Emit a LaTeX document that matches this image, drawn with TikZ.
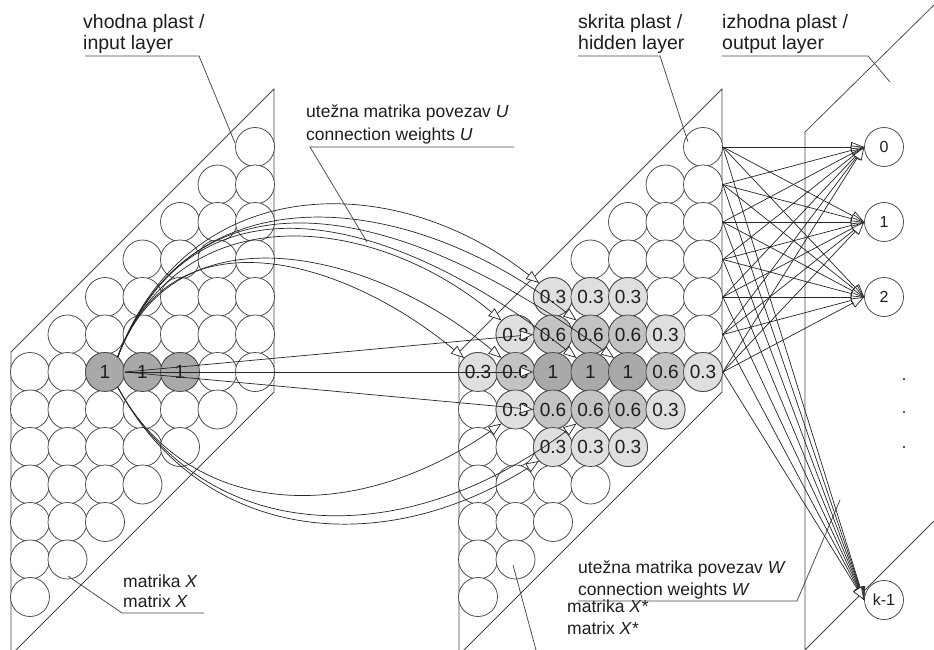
\documentclass[tikz,border=0pt]{standalone}
\usepackage{fontspec}
\setmainfont{Liberation Sans}
\usetikzlibrary{arrows.meta}
\definecolor{cone}{HTML}{A9A9A9}
\definecolor{csix}{HTML}{C3C3C3}
\definecolor{cthree}{HTML}{DFDFDF}
\definecolor{edgegray}{HTML}{474747}
\definecolor{txt}{HTML}{1E1E1E}
\tikzset{
  cell/.style={circle, draw=edgegray, line width=0.75pt, fill=white, minimum size=39pt, inner sep=0pt, text=txt, font=\fontsize{19}{19}\selectfont},
  outcell/.style={cell, font=\fontsize{16}{16}\selectfont},
  paraline/.style={draw=edgegray, line width=0.75pt},
  whtip/.style={-{Triangle[fill=white, length=13pt, width=10pt]}},
  conn/.style={draw=black!85, line width=0.7pt, whtip},
  lbl/.style={anchor=base west, inner sep=0pt, text=txt, font=\fontsize{17.5}{21}\selectfont},
  biglbl/.style={lbl, font=\fontsize{19.5}{22}\selectfont},
  leader/.style={draw=edgegray, line width=0.75pt},
}
\begin{document}
\begin{tikzpicture}[x=1pt,y=-1pt]
\path[use as bounding box, fill=white] (0,0) rectangle (934,650);
% layer frames
\draw[paraline] (11,650) -- (11,352) -- (274,89) -- (274,392) -- (16,650);
\draw[paraline] (459,650) -- (459,352) -- (722,89) -- (722,392) -- (464,650);
\draw[paraline] (934,5) -- (805,132) -- (805,650) -- (934,521);
% input grid
\foreach \i in {0,...,6}{\foreach \k in {0,...,6}{
  \node[cell] (L-\i-\k) at ({30+37.5*\i},{372+37.5*(\k-\i)}) {};
}}
\foreach \i in {2,3,4}{
  \node[cell, fill=cone] (L-\i-\i) at ({30+37.5*\i},372) {1};
}
% hidden grid
\foreach \i in {0,...,6}{\foreach \k in {0,...,6}{
  \node[cell] (M-\i-\k) at ({478+37.5*\i},{372+37.5*(\k-\i)}) {};
}}
\foreach \i/\k/\v/\c in {0/0/0.3/cthree, 1/0/0.3/cthree, 1/1/0.6/csix, 1/2/0.3/cthree,
  2/0/0.3/cthree, 2/1/0.6/csix, 2/2/1/cone, 2/3/0.6/csix, 2/4/0.3/cthree,
  3/1/0.3/cthree, 3/2/0.6/csix, 3/3/1/cone, 3/4/0.6/csix, 3/5/0.3/cthree,
  4/2/0.3/cthree, 4/3/0.6/csix, 4/4/1/cone, 4/5/0.6/csix, 4/6/0.3/cthree,
  5/4/0.3/cthree, 5/5/0.6/csix, 5/6/0.3/cthree, 6/6/0.3/cthree}{
  \node[cell, fill=\c] (M-\i-\k) at ({478+37.5*\i},{372+37.5*(\k-\i)}) {\v};
}
% output layer
\node[outcell] (o0) at (884,147) {0};
\node[outcell] (o1) at (884,222) {1};
\node[outcell] (o2) at (884,297) {2};
\node[outcell] (ok) at (884,600) {k-1};
\fill[txt] (904,379) circle (1.2);
\fill[txt] (904,412) circle (1.2);
\fill[txt] (904,447) circle (1.2);
% labels
\node[biglbl] (t-in-1) at (83,29) {vhodna plast /};
\node[biglbl] (t-in-2) at (83,50) {input layer};
\coordinate (u-in-a) at (85,56); \coordinate (u-in-b) at (199,56); \coordinate (u-in-c) at (235,143);
\draw[leader] (u-in-a) -- (u-in-b) -- (u-in-c);
\node[biglbl] (t-hid-1) at (578,29) {skrita plast /};
\node[biglbl] (t-hid-2) at (578,50) {hidden layer};
\coordinate (u-hid-a) at (578,56); \coordinate (u-hid-b) at (660,56); \coordinate (u-hid-c) at (688,142);
\draw[leader] (u-hid-a) -- (u-hid-b) -- (u-hid-c);
\node[biglbl] (t-out-1) at (722,29) {izhodna plast /};
\node[biglbl] (t-out-2) at (722,50) {output layer};
\coordinate (u-out-a) at (722,56); \coordinate (u-out-b) at (868,56); \coordinate (u-out-c) at (890,82);
\draw[leader] (u-out-a) -- (u-out-b) -- (u-out-c);
\node[lbl] (t-u-1) at (306,118) {utežna matrika povezav \textit{U}};
\node[lbl] (t-u-2) at (306,140) {connection weights \textit{U}};
\coordinate (u-u-a) at (514,147); \coordinate (u-u-b) at (310,147); \coordinate (u-u-c) at (367,242);
\draw[leader] (u-u-a) -- (u-u-b) -- (u-u-c);
\node[lbl] (t-x-1) at (123,587) {matrika \textit{X}};
\node[lbl] (t-x-2) at (123,607) {matrix \textit{X}};
\coordinate (u-x-a) at (204,613); \coordinate (u-x-b) at (122,613); \coordinate (u-x-c) at (68,576);
\draw[leader] (u-x-a) -- (u-x-b) -- (u-x-c);
\node[lbl] (t-xs-1) at (567,612) {matrika \textit{X*}};
\node[lbl] (t-xs-2) at (567,634) {matrix \textit{X*}};
\coordinate (u-xs-a) at (536,650); \coordinate (u-xs-b) at (513,565);
\draw[leader] (u-xs-a) -- (u-xs-b);
\node[lbl] (t-w-1) at (578,573) {utežna matrika povezav \textit{W}};
\node[lbl] (t-w-2) at (578,595) {connection weights \textit{W}};
\coordinate (u-w-a) at (578,601); \coordinate (u-w-b) at (797,601); \coordinate (u-w-c) at (840,500);
\draw[leader] (u-w-a) -- (u-w-b) -- (u-w-c);
% connections U (from first input unit)
\draw[conn] (L-2-2.east) -- (M-2-1.west);
\draw[conn] (L-2-2.east) -- (M-2-2.west);
\draw[conn] (L-2-2.east) -- (M-2-3.west);
\draw[conn] (L-2-2.50) .. controls (200,150) and (412,211) .. (M-4-4.135);
\draw[conn] (L-2-2.50) .. controls (195,160) and (395,215) .. (M-3-3.135);
\draw[conn] (L-2-2.50) .. controls (190,165) and (411,191) .. (M-3-2.135);
\draw[conn] (L-2-2.50) .. controls (185,175) and (389,165) .. (M-2-0.135);
\draw[conn] (L-2-2.50) .. controls (180,195) and (371,212) .. (M-1-0.135);
\draw[conn] (L-2-2.50) .. controls (175,205) and (371,249) .. (M-1-1.135);
\draw[conn] (L-2-2.50) .. controls (170,210) and (341,256) .. (M-0-0.135);
\draw[conn] (L-2-2.-50) .. controls (190,520) and (354,526) .. (M-1-2.225);
\draw[conn] (L-2-2.-50) .. controls (200,540) and (378,562) .. (M-2-4.225);
\draw[conn] (L-2-2.-50) .. controls (205,545) and (401,555) .. (M-3-4.225);
% connections W
\foreach \k in {0,...,6}{
  \foreach \o in {o0,o1,o2,ok}{
    \draw[conn] (M-6-\k.east) -- (\o.west);
  }
}
\end{tikzpicture}
\end{document}
